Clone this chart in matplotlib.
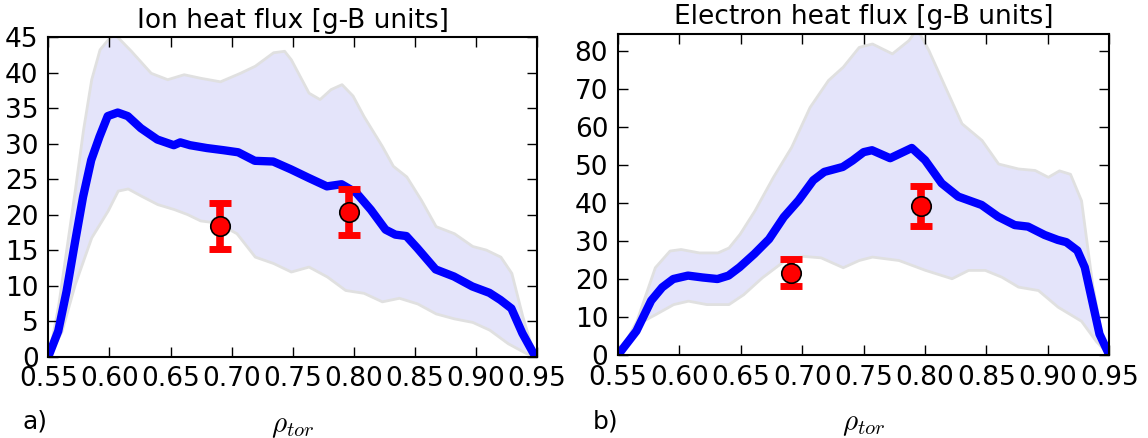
import numpy as np
import matplotlib
matplotlib.use('Agg')
import matplotlib.pyplot as plt

plt.rcParams['mathtext.fontset'] = 'cm'

# ---- ion heat flux (panel a) ----
rho_ion = [0.55, 0.5581, 0.5649, 0.5716, 0.5784, 0.5851, 0.5919, 0.5986, 0.6068, 0.615,
           0.6257, 0.6392, 0.6527, 0.658, 0.666, 0.6797, 0.6932, 0.7054, 0.719, 0.734,
           0.7485, 0.763, 0.778, 0.790, 0.802, 0.814, 0.826, 0.834, 0.843, 0.852,
           0.867, 0.882, 0.897, 0.911, 0.920, 0.929, 0.938, 0.947, 0.95]
q_ion = [0.0, 3.6, 9.2, 15.9, 22.5, 27.7, 31.0, 33.9, 34.4, 33.9,
         32.2, 30.6, 29.8, 30.2, 29.8, 29.4, 29.1, 28.8, 27.6, 27.5,
         26.4, 25.2, 24.0, 24.3, 23.1, 20.7, 17.9, 17.2, 17.0, 15.3,
         12.3, 11.3, 9.9, 9.0, 8.0, 6.8, 3.3, 0.5, 0.0]

rho_ion_hi = [0.55, 0.5581, 0.5649, 0.5716, 0.5784, 0.5851, 0.5919, 0.5986, 0.604, 0.6176,
              0.6338, 0.6473, 0.6608, 0.6743, 0.6905, 0.7068, 0.719, 0.734, 0.743, 0.7485,
              0.763, 0.772, 0.781, 0.790, 0.799, 0.808, 0.823, 0.832, 0.843, 0.855,
              0.867, 0.882, 0.897, 0.908, 0.920, 0.929, 0.938, 0.947, 0.95]
q_ion_hi = [0.0, 7.3, 15.4, 23.4, 32.0, 39.1, 43.3, 44.7, 45.5, 43.1,
            40.0, 39.1, 39.8, 39.3, 38.8, 40.0, 41.0, 42.9, 43.1, 41.9,
            37.2, 36.3, 37.7, 38.4, 36.8, 33.9, 29.7, 26.9, 25.4, 22.1,
            18.4, 17.4, 15.6, 15.1, 14.1, 11.8, 5.7, 0.5, 0.0]

rho_ion_lo = [0.55, 0.5608, 0.5716, 0.5851, 0.5986, 0.6068, 0.615, 0.6257, 0.6392, 0.6527,
              0.6635, 0.6743, 0.6878, 0.704, 0.719, 0.734, 0.7485, 0.763, 0.778, 0.793,
              0.808, 0.823, 0.837, 0.852, 0.867, 0.882, 0.897, 0.911, 0.926, 0.941, 0.95]
q_ion_lo = [0.0, 3.6, 10.2, 16.8, 20.6, 23.4, 23.7, 22.7, 21.5, 20.8,
            20.1, 19.2, 18.9, 17.4, 14.1, 13.2, 12.0, 12.7, 11.3, 9.4,
            9.0, 7.8, 8.3, 7.5, 6.1, 5.4, 4.9, 3.8, 1.9, 0.5, 0.0]

exp_rho_ion = [0.6907, 0.7965]
exp_q_ion = [18.4, 20.4]
exp_err_ion = [3.2, 3.2]

# ---- electron heat flux (panel b) ----
rho_el = [0.55, 0.565, 0.577, 0.586, 0.595, 0.607, 0.619, 0.631, 0.640, 0.649,
          0.661, 0.673, 0.685, 0.697, 0.709, 0.718, 0.733, 0.741, 0.750, 0.7568,
          0.7716, 0.7892, 0.80, 0.8135, 0.827, 0.846, 0.8595, 0.873, 0.8838, 0.8973,
          0.908, 0.915, 0.924, 0.930, 0.936, 0.942, 0.95]
q_el = [0.0, 6.3, 14.3, 17.8, 20.0, 20.9, 20.4, 20.0, 20.9, 23.1,
        26.6, 30.5, 36.3, 40.7, 46.0, 48.2, 49.5, 51.2, 53.4, 53.9,
        51.8, 54.5, 51.3, 45.2, 41.7, 39.5, 36.4, 34.2, 33.8, 31.6,
        30.3, 29.7, 27.5, 23.1, 14.3, 5.5, 0.0]

rho_el_hi = [0.55, 0.565, 0.580, 0.592, 0.601, 0.616, 0.631, 0.640, 0.649, 0.661,
             0.676, 0.691, 0.706, 0.721, 0.733, 0.746, 0.7568, 0.773, 0.7865, 0.7932,
             0.8027, 0.8162, 0.8297, 0.846, 0.8595, 0.8757, 0.8892, 0.900, 0.909, 0.918,
             0.927, 0.936, 0.945, 0.95]
q_el_hi = [0.0, 9.0, 23.1, 27.5, 27.9, 27.0, 27.0, 28.3, 31.9, 38.0,
           46.8, 54.8, 65.3, 72.4, 75.9, 81.1, 82.0, 79.4, 82.9, 86.0,
           80.3, 70.6, 61.0, 56.6, 50.4, 49.1, 48.7, 46.9, 48.6, 47.7,
           40.7, 18.7, 2.8, 0.0]

rho_el_lo = [0.55, 0.565, 0.580, 0.595, 0.607, 0.622, 0.640, 0.652, 0.667, 0.685,
             0.700, 0.715, 0.733, 0.746, 0.7568, 0.7784, 0.80, 0.8216, 0.8351, 0.8486,
             0.8622, 0.8757, 0.8919, 0.908, 0.927, 0.939, 0.95]
q_el_lo = [0.0, 8.1, 10.7, 13.4, 14.3, 13.4, 13.4, 16.0, 20.4, 24.8,
           26.1, 25.7, 23.1, 25.0, 25.9, 25.0, 22.4, 20.2, 22.4, 22.4,
           20.6, 18.0, 17.1, 12.7, 9.0, 3.7, 0.0]

exp_rho_el = [0.691, 0.797]
exp_q_el = [21.7, 39.3]
exp_err_el = [3.5, 5.3]

xticks = [0.55, 0.60, 0.65, 0.70, 0.75, 0.80, 0.85, 0.90, 0.95]
xtick_labels = ['0.55', '0.60', '0.65', '0.70', '0.75', '0.80', '0.85', '0.90', '0.95']


def dibuja_panel(ax, rho, q, rho_hi, q_hi, rho_lo, q_lo, xe, ye, ee, titulo, ymax, yticks):
    # los dos bordes de la banda se llevan a una malla comun solo para el relleno
    malla = np.union1d(rho_hi, rho_lo)
    hi = np.interp(malla, rho_hi, q_hi)
    lo = np.interp(malla, rho_lo, q_lo)
    ax.fill_between(malla, lo, hi, facecolor='#e4e4fa', edgecolor='#e0e0e0', linewidth=2, zorder=1)
    ax.plot(rho, q, color='#0000ff', linewidth=6, zorder=2,
            solid_capstyle='round', solid_joinstyle='round')
    # barras de error y puntos por separado para que las tapas queden rojas y gruesas
    ax.errorbar(xe, ye, yerr=ee, fmt='none', ecolor='red', elinewidth=5.5,
                capsize=8, capthick=5, zorder=3)
    ax.plot(xe, ye, 'o', color='red', markeredgecolor='black', markeredgewidth=1.2,
            markersize=14, zorder=4)
    ax.set_xlim(0.55, 0.95)
    ax.set_ylim(0, ymax)
    ax.set_xticks(xticks)
    ax.set_xticklabels(xtick_labels)
    ax.set_yticks(yticks)
    ax.tick_params(direction='in', length=7, width=1, top=True, right=True,
                   labelsize=19, pad=7)
    for s in ax.spines.values():
        s.set_linewidth(1.5)
    ax.set_title(titulo, fontsize=19, pad=7)
    ax.set_xlabel(r'$\rho_{tor}$', fontsize=21, labelpad=14)


fig = plt.figure(figsize=(11.48, 4.38), dpi=100)
ax1 = fig.add_axes([0.0421, 0.1856, 0.4257, 0.7292])
ax2 = fig.add_axes([0.5383, 0.1895, 0.4280, 0.7329])

dibuja_panel(ax1, rho_ion, q_ion, rho_ion_hi, q_ion_hi, rho_ion_lo, q_ion_lo,
             exp_rho_ion, exp_q_ion, exp_err_ion,
             'Ion heat flux [g-B units]', 45, range(0, 46, 5))
dibuja_panel(ax2, rho_el, q_el, rho_el_hi, q_el_hi, rho_el_lo, q_el_lo,
             exp_rho_el, exp_q_el, exp_err_el,
             'Electron heat flux [g-B units]', 84.5, range(0, 81, 10))

fig.text(0.020, 0.022, 'a)', fontsize=18, va='baseline')
fig.text(0.5165, 0.022, 'b)', fontsize=18, va='baseline')

plt.savefig('out.png', dpi=100)
